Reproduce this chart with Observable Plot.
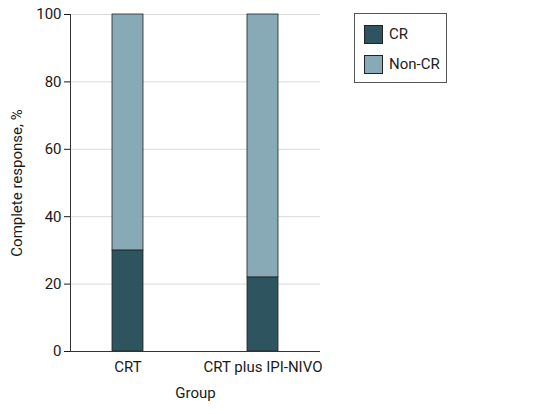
<!DOCTYPE html>
<html>
<head>
<meta charset="utf-8">
<script src="https://cdn.jsdelivr.net/npm/d3@7"></script>
<script src="https://cdn.jsdelivr.net/npm/@observablehq/plot@0.6"></script>
<style>
  body { margin: 0; background: #fff; font-family: Roboto, "Noto Sans", sans-serif; }
  #wrap { position: relative; width: 535px; height: 414px; }
  #legend {
    position: absolute; left: 354px; top: 13px; width: 93px; height: 70px;
    border: 1px solid #555; box-sizing: border-box; padding: 10px 0 0 9px;
    font-size: 15px; color: #222;
  }
  .item { display: flex; align-items: center; height: 20px; margin-bottom: 10px; }
  .sw { width: 19px; height: 19px; border: 1px solid #222; box-sizing: border-box; margin-right: 6px; }
</style>
</head>
<body>
<div id="wrap">
  <div id="chart"></div>
  <div id="legend"></div>
</div>
<script>
  // values (percent of patients)
  const groups = ["CRT", "CRT plus IPI-NIVO"];
  const responses = ["CR", "Non-CR"];
  const crValues = [30, 22];
  const nonCrValues = [70, 78];
  const yTicks = [0, 20, 40, 60, 80, 100];

  const colors = ["#2e5460", "#88aab7"];

  const data = [];
  groups.forEach((g, i) => {
    data.push({ group: g, response: "CR", pct: crValues[i] });
    data.push({ group: g, response: "Non-CR", pct: nonCrValues[i] });
  });

  const chart = Plot.plot({
    width: 535,
    height: 414,
    marginLeft: 70,
    marginRight: 215,
    marginTop: 14,
    marginBottom: 63,
    style: { fontFamily: "Roboto, 'Noto Sans', sans-serif", fontSize: "15px", color: "#1a1a1a" },
    x: { domain: groups, paddingInner: 0.77, paddingOuter: 0.31, label: null },
    y: { domain: [0, 100], label: null },
    color: { domain: responses, range: colors },
    marks: [
      Plot.gridY(yTicks, { stroke: "#d9d9d9", strokeOpacity: 1 }),
      Plot.barY(data, Plot.stackY({ x: "group", y: "pct", fill: "response", stroke: "#222", strokeWidth: 0.8 })),
      Plot.axisY(yTicks, { tickSize: 6, tickPadding: 3, label: "Complete response, %", labelAnchor: "center", labelArrow: "none", labelOffset: 59 }),
      Plot.axisX({ tickSize: 0, tickPadding: 10, label: "Group", labelAnchor: "center", labelArrow: "none", labelOffset: 46 }),
      Plot.ruleY([0], { stroke: "#333" }),
      Plot.frame({ anchor: "left", stroke: "#333" })
    ]
  });
  document.getElementById("chart").appendChild(chart);

  const legend = document.getElementById("legend");
  responses.forEach((r, i) => {
    const row = document.createElement("div");
    row.className = "item";
    row.innerHTML = `<span class="sw" style="background:${colors[i]}"></span><span>${r}</span>`;
    legend.appendChild(row);
  });
</script>
</body>
</html>
